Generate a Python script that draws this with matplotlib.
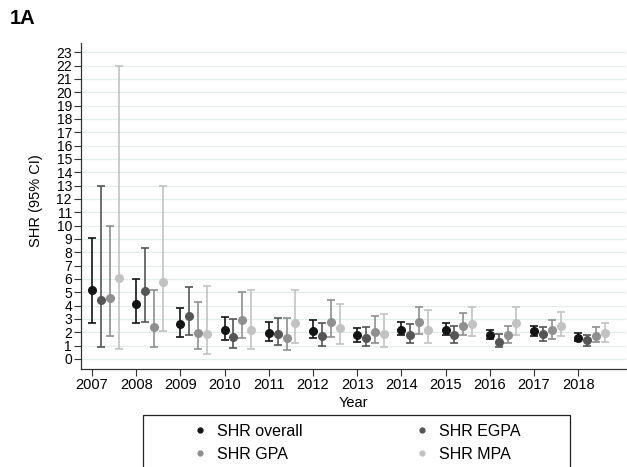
import numpy as np
import matplotlib as mpl
import matplotlib.pyplot as plt
from matplotlib.lines import Line2D
from matplotlib.patches import Rectangle

mpl.rcParams['font.family'] = ['Liberation Sans', 'DejaVu Sans']

# %% Data: SHR point estimates with 95% CI, by year and group
years = np.arange(2007, 2019)

shr_overall = [5.2, 4.1, 2.6, 2.2, 1.95, 2.1, 1.8, 2.2, 2.2, 1.8, 2.1, 1.6]
lo_overall = [2.7, 2.7, 1.65, 1.45, 1.35, 1.6, 1.3, 1.8, 1.8, 1.5, 1.75, 1.35]
hi_overall = [9.1, 6.0, 3.85, 3.15, 2.75, 2.9, 2.35, 2.8, 2.7, 2.2, 2.5, 1.95]

shr_egpa = [4.4, 5.1, 3.25, 1.65, 1.85, 1.7, 1.6, 1.8, 1.8, 1.3, 1.85, 1.4]
lo_egpa = [0.9, 2.8, 1.8, 0.85, 1.05, 1.0, 0.95, 1.2, 1.2, 0.9, 1.35, 0.95]
hi_egpa = [13.0, 8.3, 5.4, 3.0, 3.05, 2.7, 2.4, 2.6, 2.5, 1.9, 2.4, 1.8]

shr_gpa = [4.6, 2.4, 1.95, 2.95, 1.55, 2.8, 2.05, 2.8, 2.5, 1.8, 2.15, 1.75]
lo_gpa = [1.7, 0.9, 0.75, 1.55, 0.7, 1.65, 1.2, 1.9, 1.8, 1.2, 1.5, 1.3]
hi_gpa = [10.0, 5.15, 4.25, 5.05, 3.1, 4.4, 3.2, 3.9, 3.45, 2.5, 2.9, 2.4]

shr_mpa = [6.1, 5.8, 1.85, 2.2, 2.7, 2.3, 1.9, 2.2, 2.6, 2.7, 2.5, 1.95]
lo_mpa = [0.75, 2.1, 0.4, 0.75, 1.2, 1.1, 0.9, 1.2, 1.7, 1.8, 1.75, 1.3]
hi_mpa = [22.0, 13.0, 5.5, 5.2, 5.15, 4.15, 3.4, 3.7, 3.9, 3.9, 3.5, 2.7]

groups = ['SHR overall', 'SHR EGPA', 'SHR GPA', 'SHR MPA']
colors = ['#141414', '#555555', '#8f8f8f', '#c2c2c2']
offsets = [0.0, 0.2, 0.4, 0.6]
series = [(shr_overall, lo_overall, hi_overall),
          (shr_egpa, lo_egpa, hi_egpa),
          (shr_gpa, lo_gpa, hi_gpa),
          (shr_mpa, lo_mpa, hi_mpa)]

# %% Plot
fig = plt.figure(figsize=(6.27, 4.67), dpi=100)
ax = fig.add_axes([81/627, 1 - 369/467, 545/627, (369 - 43)/467])

for (est, lo, hi), col, off in zip(series, colors, offsets):
    est = np.array(est)
    err = np.vstack([est - np.array(lo), np.array(hi) - est])
    ax.errorbar(years + off, est, yerr=err, fmt='o', color=col, ecolor=col,
                ms=5.5, elinewidth=1.2, capsize=3.2, capthick=1.2, zorder=3)

ax.set_xlim(2006.75, 2019.08)
ax.set_ylim(-0.75, 23.7)
ax.set_xticks(years)
ax.set_yticks(np.arange(0, 24))
ax.tick_params(axis='x', labelsize=10.5, length=5, width=0.8, color='#333333', pad=1.5)
ax.tick_params(axis='y', labelsize=10, length=5, width=0.8, color='#333333', pad=1.5)
ax.grid(axis='y', color='#e2ecec', lw=0.9, zorder=0)
ax.set_axisbelow(True)
for s in ['top', 'right']:
    ax.spines[s].set_visible(False)
for s in ['left', 'bottom']:
    ax.spines[s].set_color('#333333')
    ax.spines[s].set_linewidth(0.9)

ax.set_xlabel('Year', fontsize=10.5, labelpad=3)
ax.set_ylabel('SHR (95% CI)', fontsize=10.5)
ax.yaxis.set_label_coords(-0.070, 0.515)

fig.text(10/627, 1 - 18.5/467, '1A', fontsize=14.5, fontweight='bold', va='center')

# legend box below the axes
fig.patches.append(Rectangle((143/627, -0.01), (570 - 143)/627, 0.01 + 52/467,
                             transform=fig.transFigure, fill=False,
                             ec='#222222', lw=0.9))
order = [0, 2, 1, 3]
handles = [Line2D([], [], ls='none', marker='o', ms=3.5, color=colors[i]) for i in order]
fig.legend(handles, [groups[i] for i in order], ncol=2, loc='upper left', frameon=False,
           bbox_to_anchor=(192/627, 1 - 424/467), borderaxespad=0, borderpad=0,
           handlelength=1, handletextpad=0.56, columnspacing=7.0,
           labelspacing=0.5, fontsize=11.5)

fig.savefig('out.png', dpi=100)
